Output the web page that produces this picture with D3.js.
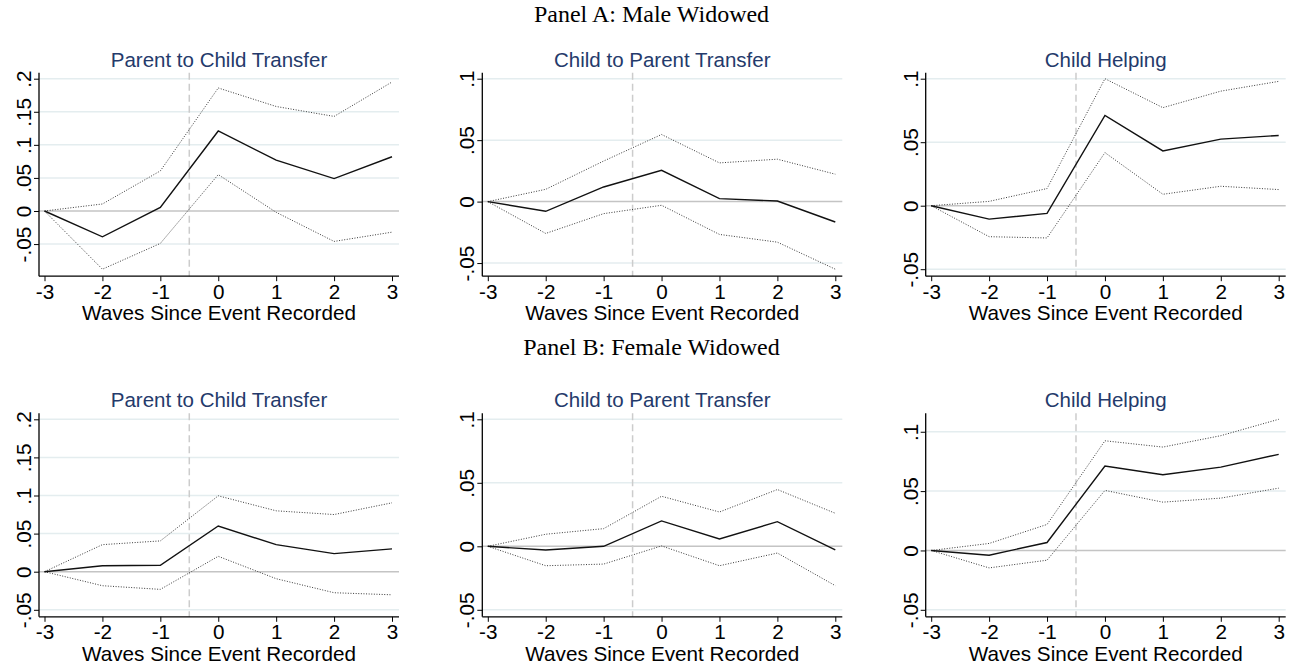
<!DOCTYPE html>
<html>
<head>
<meta charset="utf-8">
<script src="https://cdn.jsdelivr.net/npm/d3@7"></script>
<style>
  body { margin: 0; background: #fff; }
  svg { display: block; }
  .tick text { font-family: Arial, "Liberation Sans", sans-serif; font-size: 20.7px; fill: #000; }
</style>
</head>
<body>
<div id="chart"></div>
<script>
// Event-time axis
const waves = [-3, -2, -1, 0, 1, 2, 3];

// Panel A: Male Widowed
const maleP2CEst = [0, -0.039, 0.0055, 0.121, 0.077, 0.049, 0.082];
const maleP2CHi  = [0, 0.0106, 0.0606, 0.186, 0.158, 0.143, 0.195];
const maleP2CLo  = [0, -0.088, -0.049, 0.055, -0.002, -0.046, -0.032];

const maleC2PEst = [0, -0.0079, 0.0119, 0.0255, 0.0024, 0.0005, -0.0166];
const maleC2PHi  = [0, 0.010, 0.033, 0.0546, 0.0315, 0.0345, 0.0223];
const maleC2PLo  = [0, -0.0259, -0.0098, -0.003, -0.0267, -0.033, -0.055];

const maleHelpEst = [0, -0.0106, -0.0061, 0.0711, 0.0431, 0.0524, 0.0553];
const maleHelpHi  = [0, 0.0034, 0.0135, 0.100, 0.0772, 0.0902, 0.0979];
const maleHelpLo  = [0, -0.0244, -0.0254, 0.0418, 0.009, 0.0153, 0.0127];

// Panel B: Female Widowed
const femaleP2CEst = [0, 0.0079, 0.0084, 0.060, 0.0355, 0.0237, 0.0299];
const femaleP2CHi  = [0, 0.0355, 0.0404, 0.0996, 0.0799, 0.075, 0.0904];
const femaleP2CLo  = [0, -0.0184, -0.0232, 0.0202, -0.0092, -0.0276, -0.0303];

const femaleC2PEst = [0, -0.0029, 0.0, 0.020, 0.0058, 0.0194, -0.0029];
const femaleC2PHi  = [0, 0.0095, 0.0139, 0.0394, 0.027, 0.0447, 0.026];
const femaleC2PLo  = [0, -0.0153, -0.014, 0.0003, -0.0153, -0.0053, -0.031];

const femaleHelpEst = [0, -0.004, 0.0067, 0.0711, 0.0638, 0.0702, 0.081];
const femaleHelpHi  = [0, 0.0059, 0.0219, 0.0924, 0.0871, 0.0967, 0.1105];
const femaleHelpLo  = [0, -0.0147, -0.0082, 0.0506, 0.0407, 0.0441, 0.0525];

// Tick values and labels
const ticksWide = [-0.05, 0, 0.05, 0.1, 0.15, 0.2];
const ticksNarrow = [-0.05, 0, 0.05, 0.1];
const panelTitles = ["Panel A: Male Widowed", "Panel B: Female Widowed"];
const outcomeTitles = ["Parent to Child Transfer", "Child to Parent Transfer", "Child Helping"];
const xTitle = "Waves Since Event Recorded";
const eventLine = -0.5;

const rows = [
  [
    {est: maleP2CEst, hi: maleP2CHi, lo: maleP2CLo, ticks: ticksWide},
    {est: maleC2PEst, hi: maleC2PHi, lo: maleC2PLo, ticks: ticksNarrow},
    {est: maleHelpEst, hi: maleHelpHi, lo: maleHelpLo, ticks: ticksNarrow},
  ],
  [
    {est: femaleP2CEst, hi: femaleP2CHi, lo: femaleP2CLo, ticks: ticksWide},
    {est: femaleC2PEst, hi: femaleC2PHi, lo: femaleC2PLo, ticks: ticksNarrow},
    {est: femaleHelpEst, hi: femaleHelpHi, lo: femaleHelpLo, ticks: ticksNarrow},
  ],
];

/*******************************/
/*    Declare the constants    */
/*******************************/
const width = 1303;
const height = 669;
const colLeft = [39, 482.3, 925.7];
const rowTop = [72.7, 413.3];
const rowHeadY = [22, 355];
const plotW = 360;
const plotH = 203.5;
const titleColor = "#243a6b";
const sans = "Arial, 'Liberation Sans', sans-serif";

// Stata-style labels: plain hyphen, no leading zero
const fmtY = v => v === 0 ? "0" : String(+v.toFixed(4)).replace(/^(-?)0\./, "$1.");
const fmtX = v => String(v);

const svg = d3.select("#chart")
  .append("svg")
    .attr("width", width)
    .attr("height", height);

rows.forEach((row, r) => {
  // Panel heading
  svg.append("text")
    .attr("x", width / 2)
    .attr("y", rowHeadY[r])
    .attr("text-anchor", "middle")
    .style("font-family", "'Liberation Serif', 'Times New Roman', serif")
    .style("font-size", "24px")
    .text(panelTitles[r]);

  row.forEach((p, c) => {
    const g = svg.append("g")
      .attr("transform", `translate(${colLeft[c]}, ${rowTop[r]})`);

    /****************************/
    /*    Declare the scales    */
    /****************************/
    const xScale = d3.scaleLinear()
      .domain(d3.extent(waves))
      .range([5.5, plotW - 7]);

    const yLo = d3.min([...p.lo, ...p.ticks]);
    const yHi = d3.max([...p.hi, ...p.ticks]);
    const yScale = d3.scaleLinear()
      .domain([yLo, yHi])
      .range([plotH - 7, 6]);

    // grid lines
    g.selectAll(".grid")
      .data(p.ticks.filter(t => t !== 0))
      .join("line")
        .attr("x1", 0)
        .attr("x2", plotW)
        .attr("y1", d => yScale(d))
        .attr("y2", d => yScale(d))
        .attr("stroke", "#e4edef")
        .attr("stroke-width", 1.5);

    // zero reference line
    g.append("line")
      .attr("x1", 0)
      .attr("x2", plotW)
      .attr("y1", yScale(0))
      .attr("y2", yScale(0))
      .attr("stroke", "#c4c4c4")
      .attr("stroke-width", 1.5);

    // event line
    g.append("line")
      .attr("x1", xScale(eventLine))
      .attr("x2", xScale(eventLine))
      .attr("y1", 0)
      .attr("y2", plotH)
      .attr("stroke", "#cccccc")
      .attr("stroke-width", 1.5)
      .attr("stroke-dasharray", "7,4");

    /**************************/
    /*    Append the lines    */
    /**************************/
    const line = d3.line()
      .x((d, i) => xScale(waves[i]))
      .y(d => yScale(d));

    [p.hi, p.lo].forEach(ci => {
      g.append("path")
        .attr("d", line(ci))
        .attr("fill", "none")
        .attr("stroke", "#3a3a3a")
        .attr("stroke-width", 1)
        .attr("stroke-dasharray", "1,1.6");
    });

    g.append("path")
      .attr("d", line(p.est))
      .attr("fill", "none")
      .attr("stroke", "#111")
      .attr("stroke-width", 1.4);

    /**************************/
    /*      Add the axes      */
    /**************************/
    const bottomAxis = d3.axisBottom(xScale)
      .tickValues(waves)
      .tickFormat(fmtX)
      .tickSize(5)
      .tickPadding(3)
      .tickSizeOuter(0);
    const xAxisG = g.append("g")
      .attr("transform", `translate(0, ${plotH})`)
      .call(bottomAxis);
    xAxisG.select(".domain").attr("d", `M0,0H${plotW}`).attr("stroke", "#000").attr("stroke-width", 1.3);

    const leftAxis = d3.axisLeft(yScale)
      .tickValues(p.ticks)
      .tickFormat(fmtY)
      .tickSize(5)
      .tickSizeOuter(0);
    const yAxisG = g.append("g").call(leftAxis);
    yAxisG.select(".domain").attr("d", `M0,0V${plotH}`).attr("stroke", "#000").attr("stroke-width", 1.3);
    yAxisG.selectAll(".tick text")
      .attr("x", null)
      .attr("dy", null)
      .attr("text-anchor", "middle")
      .attr("transform", "translate(-8, 0) rotate(-90)");

    // titles
    g.append("text")
      .attr("x", plotW / 2)
      .attr("y", -6)
      .attr("text-anchor", "middle")
      .style("font-family", sans)
      .style("font-size", "20.5px")
      .attr("fill", titleColor)
      .text(outcomeTitles[c]);

    g.append("text")
      .attr("x", plotW / 2)
      .attr("y", plotH + 44)
      .attr("text-anchor", "middle")
      .style("font-family", sans)
      .style("font-size", "20.7px")
      .text(xTitle);
  });
});
</script>
</body>
</html>
